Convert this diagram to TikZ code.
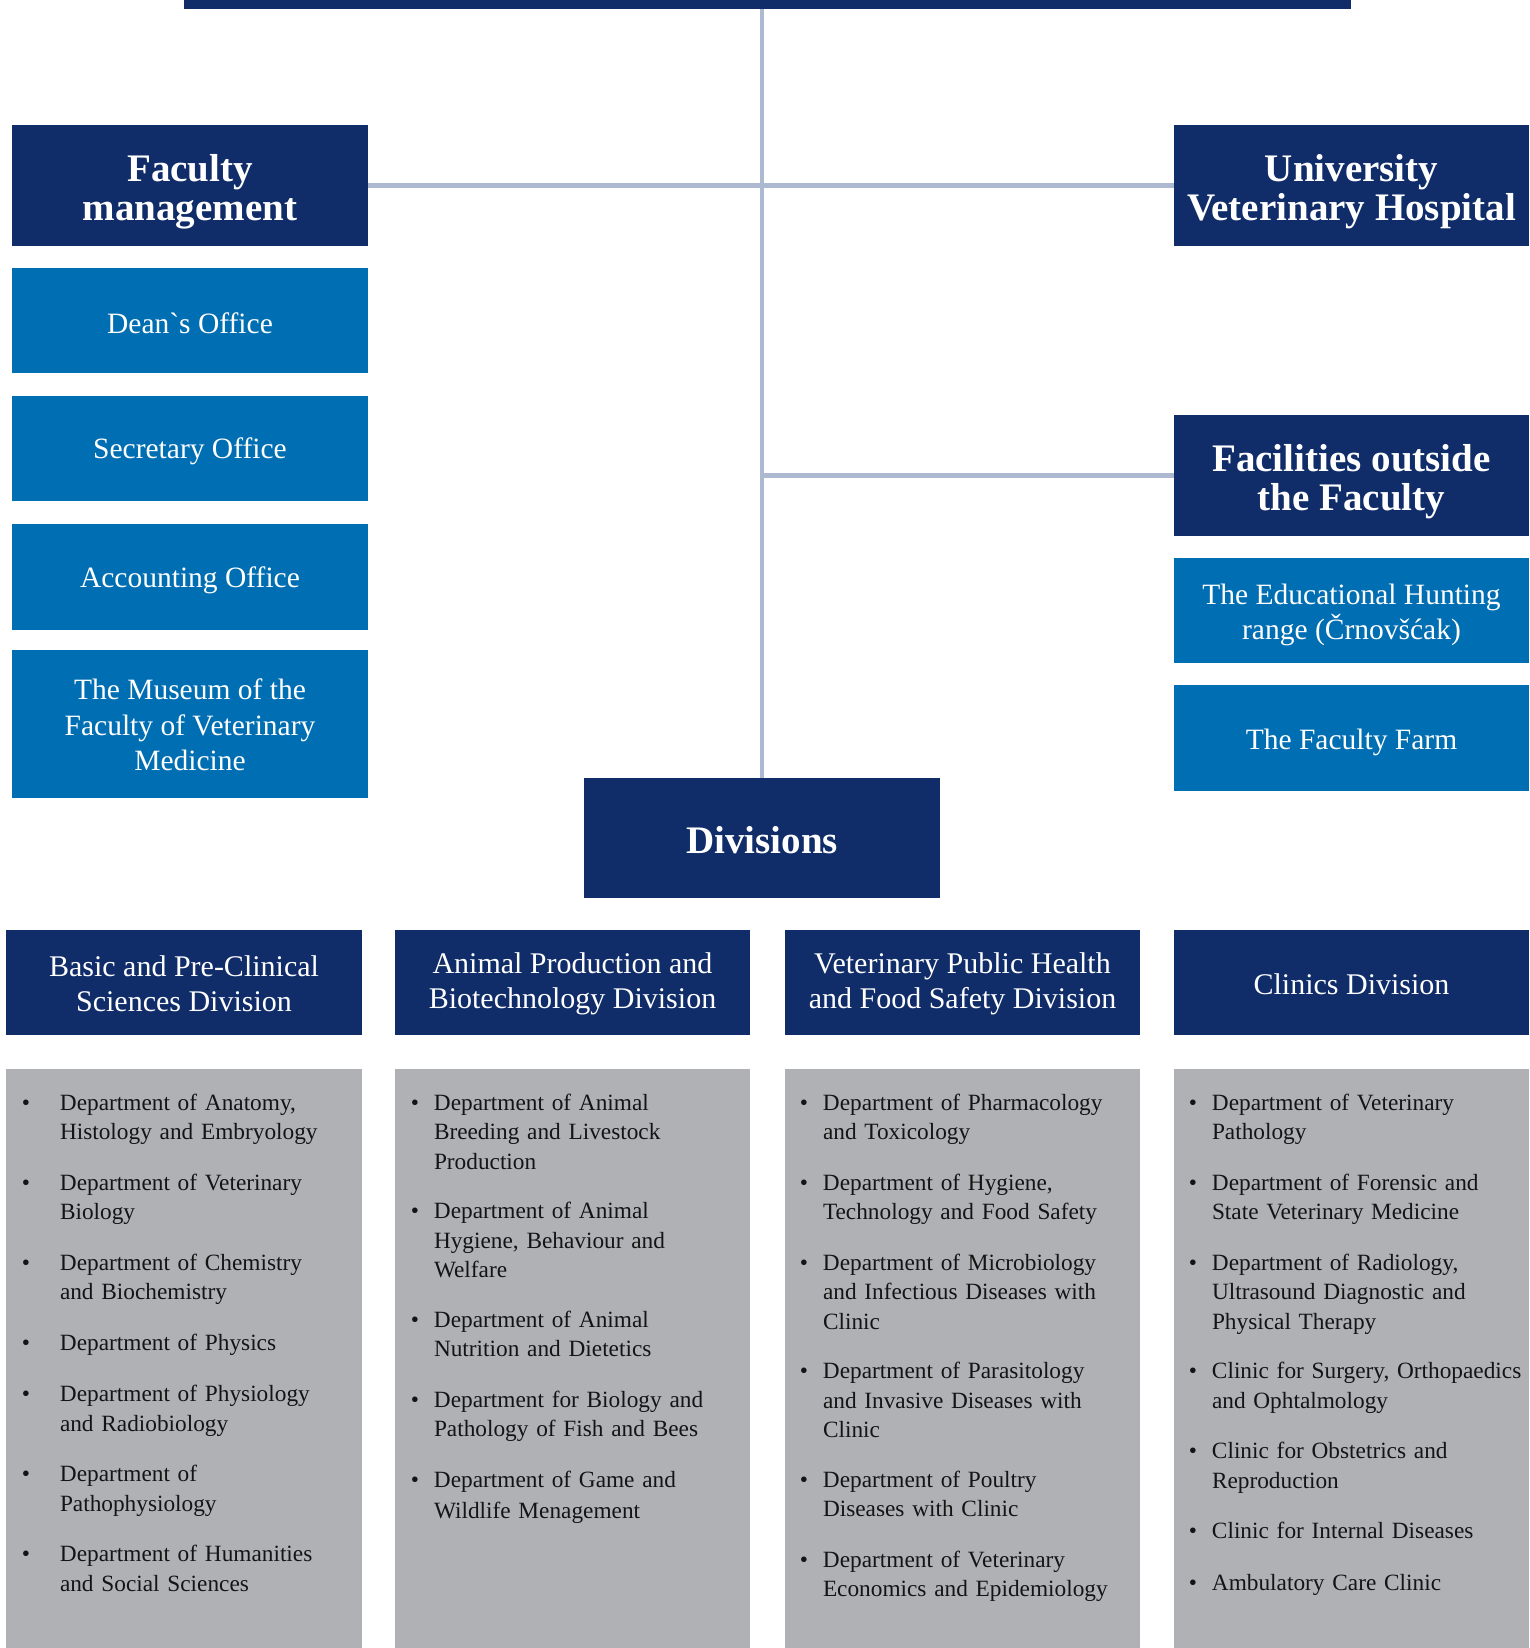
\documentclass[tikz,border=0pt]{standalone}
\usepackage{fontspec}
\setmainfont{Liberation Serif}
\definecolor{navy}{RGB}{16,45,106}
\definecolor{midblue}{RGB}{0,110,178}
\definecolor{listgray}{RGB}{176,177,181}
\definecolor{linkgray}{RGB}{173,185,208}
\definecolor{itemtext}{RGB}{20,20,20}
\newcommand\bulA{\leavevmode\llap{\textbullet\hspace{30pt}}}
\newcommand\bulB{\leavevmode\llap{\textbullet\hspace{15pt}}}
\begin{document}
\begin{tikzpicture}[x=1pt,y=-1pt,
  box/.style={anchor=north west, inner sep=0pt, outer sep=0pt},
  titlebox/.style={box, fill=navy, minimum width=356pt, minimum height=121pt},
  officebox/.style={box, fill=midblue, minimum width=356pt, minimum height=105pt},
  headbox/.style={box, fill=navy, minimum width=356pt, minimum height=105pt},
  listbox/.style={box, fill=listgray, minimum width=356pt, minimum height=579pt},
  titletext/.style={text=white, align=center, font=\bfseries\fontsize{39}{39}\selectfont, yshift=-6pt},
  officetext/.style={text=white, align=center, font=\fontsize{29.5}{35.5}\selectfont, yshift=-3pt},
  headtext/.style={text=white, align=center, font=\fontsize{30}{35}\selectfont, yshift=-1.5pt},
  entry/.style={anchor=base west, inner sep=0pt, outer sep=0pt, text width=330pt, align=left, text=itemtext, font=\fontsize{23.3}{29.5}\selectfont},
  link/.style={draw=linkgray, line width=4.5pt}]
\useasboundingbox (0,0) rectangle (1529,1648);
\fill[white] (0,0) rectangle (1529,1648);

% top bar
\node[box, fill=navy, minimum width=1167pt, minimum height=9pt] (top) at (184,0) {};

% left column
\node[titlebox, label={[titletext]center:Faculty\\management}] (fm) at (12,125) {};
\node[officebox, label={[officetext]center:Dean\textasciigrave s Office}] (dean) at (12,268) {};
\node[officebox, label={[officetext]center:Secretary Office}] (sec) at (12,396) {};
\node[officebox, minimum height=106pt, label={[officetext]center:Accounting Office}] (acc) at (12,524) {};
\node[officebox, minimum height=148pt, label={[officetext, yshift=2pt]center:The Museum of the\\Faculty of Veterinary\\Medicine}] (mus) at (12,650) {};

% right column
\node[titlebox, minimum width=355pt, label={[titletext]center:University\\Veterinary Hospital}] (uvh) at (1174,125) {};
\node[titlebox, minimum width=355pt, label={[titletext]center:Facilities outside\\the Faculty}] (fac) at (1174,415) {};
\node[officebox, minimum width=355pt, label={[officetext, yshift=-1.5pt]center:The Educational Hunting\\range (Črnovšćak)}] (hunt) at (1174,558) {};
\node[officebox, minimum width=355pt, minimum height=106pt, label={[officetext, yshift=-1.5pt]center:The Faculty Farm}] (farm) at (1174,685) {};

% divisions
\node[titlebox, minimum height=120pt, label={[titletext, yshift=4pt]center:Divisions}] (div) at (584,778) {};

% connectors
\draw[link] (div.north) -- (div.north |- top.south);
\draw[link] (fm.east) -- (uvh.west);
\draw[link] (fac.west) -- (fac.west -| div.north);

% division headers
\node[headbox, label={[headtext]center:Basic and Pre-Clinical\\Sciences Division}] (h1) at (6,930) {};
\node[headbox, minimum width=355pt, label={[headtext]center:Animal Production and\\Biotechnology Division}] (h2) at (395,930) {};
\node[headbox, minimum width=355pt, label={[headtext]center:Veterinary Public Health\\and Food Safety Division}] (h3) at (785,930) {};
\node[headbox, minimum width=355pt, label={[headtext]center:Clinics Division}] (h4) at (1174,930) {};

% list panels
\node[listbox] (g1) at (6,1069) {};
\node[listbox, minimum width=355pt] (g2) at (395,1069) {};
\node[listbox, minimum width=355pt] (g3) at (785,1069) {};
\node[listbox, minimum width=355pt] (g4) at (1174,1069) {};

% column 1
\node[entry] (a1) at (60,1110) {\bulA Department of Anatomy,\\Histology and Embryology};
\node[entry] (a2) at (60,1190) {\bulA Department of Veterinary\\Biology};
\node[entry] (a3) at (60,1270) {\bulA Department of Chemistry\\and Biochemistry};
\node[entry] (a4) at (60,1350) {\bulA Department of Physics};
\node[entry] (a5) at (60,1401.5) {\bulA Department of Physiology\\and Radiobiology};
\node[entry] (a6) at (60,1481.5) {\bulA Department of\\Pathophysiology};
\node[entry] (a7) at (60,1561.5) {\bulA Department of Humanities\\and Social Sciences};

% column 2
\node[entry] (b1) at (434,1110) {\bulB Department of Animal\\Breeding and Livestock\\Production};
\node[entry] (b2) at (434,1218.5) {\bulB Department of Animal\\Hygiene, Behaviour and\\Welfare};
\node[entry] (b3) at (434,1327) {\bulB Department of Animal\\Nutrition and Dietetics};
\node[entry] (b4) at (434,1407) {\bulB Department for Biology and\\Pathology of Fish and Bees};
\node[entry] (b5) at (434,1487) {\bulB Department of Game and\\[2pt]Wildlife Menagement};

% column 3
\node[entry] (c1) at (823,1110) {\bulB Department of Pharmacology\\and Toxicology};
\node[entry] (c2) at (823,1190) {\bulB Department of Hygiene,\\Technology and Food Safety};
\node[entry] (c3) at (823,1270) {\bulB Department of Microbiology\\and Infectious Diseases with\\Clinic};
\node[entry] (c4) at (823,1378.5) {\bulB Department of Parasitology\\and Invasive Diseases with\\Clinic};
\node[entry] (c5) at (823,1487) {\bulB Department of Poultry\\Diseases with Clinic};
\node[entry] (c6) at (823,1567) {\bulB Department of Veterinary\\Economics and Epidemiology};

% column 4
\node[entry] (d1) at (1212,1110) {\bulB Department of Veterinary\\Pathology};
\node[entry] (d2) at (1212,1190) {\bulB Department of Forensic and\\State Veterinary Medicine};
\node[entry] (d3) at (1212,1270) {\bulB Department of Radiology,\\Ultrasound Diagnostic and\\Physical Therapy};
\node[entry] (d4) at (1212,1378.5) {\bulB Clinic for Surgery, Orthopaedics\\and Ophtalmology};
\node[entry] (d5) at (1212,1458.5) {\bulB Clinic for Obstetrics and\\Reproduction};
\node[entry] (d6) at (1212,1538.5) {\bulB Clinic for Internal Diseases};
\node[entry] (d7) at (1212,1590) {\bulB Ambulatory Care Clinic};
\end{tikzpicture}
\end{document}
